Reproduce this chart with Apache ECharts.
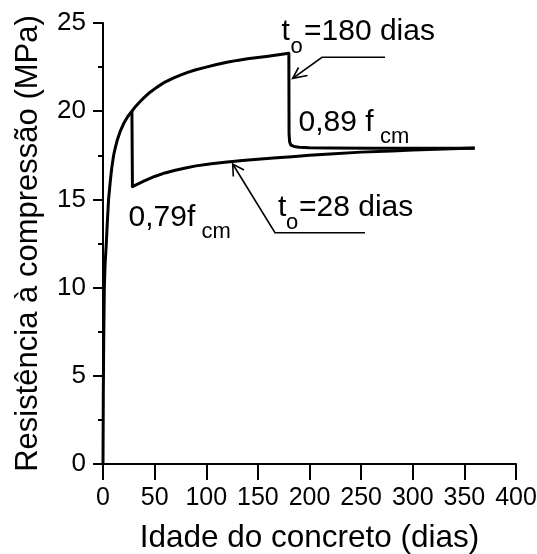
<!DOCTYPE html>
<html>
<head>
<meta charset="utf-8">
<script src="https://cdn.jsdelivr.net/npm/echarts@6/dist/echarts.min.js"></script>
<style>html,body{margin:0;padding:0;background:#fff;overflow:hidden}#c{width:537px;height:554px}</style>
</head>
<body>
<div id="c"></div>
<script>
// Reference strength curve f_cm(t), loaded at 180 days
const refDays   = [0, 0.3, 0.7, 1.3, 2, 3.2, 4, 5.4, 7, 8.5, 10.3, 12, 14, 17, 20, 24, 28, 32, 36, 40, 45, 52, 60, 68, 75, 82, 90, 100, 110, 120, 130, 140, 150, 160, 170, 180, 180.2, 180.8, 182, 185, 190, 200, 220, 260, 300, 360];
const refValues = [0, 4.0, 7.0, 10.0, 11.3, 12.5, 13.5, 15.0, 16.0, 16.8, 17.5, 17.95, 18.4, 18.9, 19.3, 19.7, 20.0, 20.3, 20.55, 20.78, 21.05, 21.35, 21.65, 21.88, 22.05, 22.2, 22.35, 22.5, 22.65, 22.77, 22.88, 22.97, 23.05, 23.12, 23.2, 23.28, 18.7, 18.25, 18.08, 18.0, 17.96, 17.93, 17.92, 17.9, 17.9, 17.9];
// Curve loaded at 28 days
const l28Days   = [28, 28.5, 33, 40, 50, 60, 70, 80, 90, 105, 118, 135, 150, 165, 183, 200, 220, 250, 280, 300, 330, 360];
const l28Values = [20.0, 15.72, 15.85, 16.05, 16.3, 16.5, 16.65, 16.78, 16.9, 17.02, 17.1, 17.2, 17.28, 17.35, 17.42, 17.5, 17.58, 17.68, 17.75, 17.8, 17.86, 17.92];
const xTicks = {min: 0, max: 400, interval: 50};
const yTicks = {min: 0, max: 25, interval: 5};
const xName = 'Idade do concreto (dias)';
const yName = 'Resistência à compressão (MPa)';

const pair = (xs, ys) => xs.map((x, i) => [x, ys[i]]);
const TXT = "'Liberation Sans', Arial, Helvetica, sans-serif";
const NUM = "'Liberation Sans Narrow', 'Arial Narrow', 'Liberation Sans', sans-serif";

function txt(x, y, s, size) {
  return {type: 'text', x: x, y: y, z: 10,
    style: {text: s, font: size + 'px ' + TXT, fill: '#000',
      textAlign: 'left', textVerticalAlign: 'middle', align: 'left', verticalAlign: 'middle'}};
}
function line(points, w) {
  return {type: 'polyline', z: 10, shape: {points: points},
    style: {stroke: '#000', lineWidth: w, fill: null}};
}

const chart = echarts.init(document.getElementById('c'), null, {renderer: 'canvas'});
chart.setOption({
  animation: false,
  backgroundColor: '#fff',
  grid: {left: 103, right: 21, top: 23, bottom: 90, containLabel: false, outerBoundsMode: 'none'},
  xAxis: {
    type: 'value', min: xTicks.min, max: xTicks.max, interval: xTicks.interval,
    name: xName, nameLocation: 'middle', nameGap: 58,
    nameTextStyle: {fontFamily: TXT, fontSize: 31.5, color: '#000'},
    axisLine: {show: true, lineStyle: {color: '#000', width: 2}},
    axisTick: {show: true, length: 16, lineStyle: {color: '#000', width: 2}},
    axisLabel: {margin: 22, fontFamily: NUM, fontSize: 25, color: '#000', hideOverlap: false},
    splitLine: {show: false}
  },
  yAxis: {
    type: 'value', min: yTicks.min, max: yTicks.max, interval: yTicks.interval,
    name: yName, nameLocation: 'middle', nameGap: 59,
    nameTextStyle: {fontFamily: TXT, fontSize: 31, color: '#000'},
    axisLine: {show: true, lineStyle: {color: '#000', width: 2}},
    axisTick: {show: true, length: 10, lineStyle: {color: '#000', width: 2}},
    minorTick: {show: true, splitNumber: 2, length: 5, lineStyle: {color: '#000', width: 2}},
    axisLabel: {margin: 17, fontFamily: NUM, fontSize: 26, color: '#000'},
    splitLine: {show: false}
  },
  series: [
    {type: 'line', data: pair(refDays, refValues), showSymbol: false, symbol: 'none',
     lineStyle: {color: '#000', width: 3, join: 'round'}, z: 5},
    {type: 'line', data: pair(l28Days, l28Values), showSymbol: false, symbol: 'none',
     lineStyle: {color: '#000', width: 3, join: 'round'}, z: 5}
  ],
  graphic: [
    txt(281.5, 31.5, 't', 30), txt(290.5, 46.5, 'o', 22), txt(304, 31.5, '=180 dias', 30),
    txt(298.5, 122.6, '0,89 f', 30), txt(380, 136.5, 'cm', 22),
    txt(128.5, 217.6, '0,79f', 30), txt(201.5, 231.5, 'cm', 22),
    txt(278, 207.6, 't', 30), txt(286, 223.2, 'o', 22), txt(299, 207.6, '=28 dias', 30),
    line([[385, 57.3], [322, 57.3], [292.7, 78.3]], 1.6),
    line([[298.5, 67.5], [292.7, 78.3], [307.5, 75.5]], 1.6),
    line([[365, 232.7], [275, 232.7], [232.7, 164]], 1.6),
    line([[233.3, 176.5], [232.7, 164], [244, 170]], 1.6)
  ]
});
</script>
</body>
</html>
